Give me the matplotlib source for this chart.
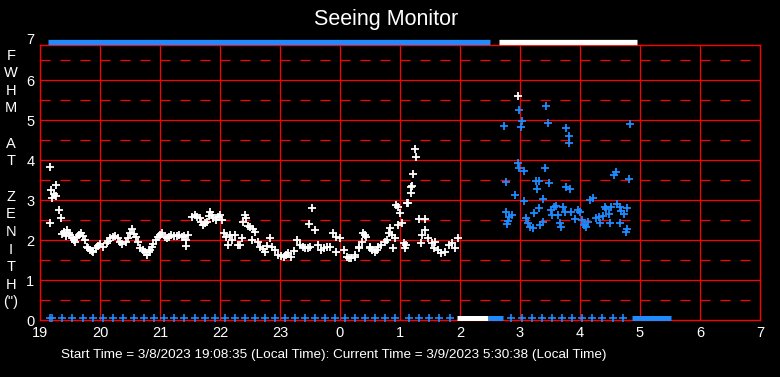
import matplotlib
matplotlib.use('Agg')
import matplotlib.pyplot as plt

plt.rcParams['font.family'] = ['Liberation Sans', 'DejaVu Sans']
plt.rcParams['lines.scale_dashes'] = False

# hours after 19:00 on 3/8, times past midnight written as 24+h
hour_ticks = list(range(19, 32))
hour_labels = ['19', '20', '21', '22', '23', '0', '1', '2', '3', '4', '5', '6', '7']
fwhm_ticks = [0, 1, 2, 3, 4, 5, 6]
ylabel_letters = ['F', 'W', 'H', 'M', '', 'A', 'T', '', 'Z', 'E', 'N', 'I', 'T', 'H', '(")']

white_t = [19.16, 19.17, 19.19, 19.20, 19.23, 19.26, 19.27, 19.32, 19.35, 19.37, 19.40, 19.43,
           19.45, 19.48, 19.50, 19.53, 19.56, 19.58, 19.61, 19.65, 19.69, 19.72, 19.75, 19.78,
           19.80, 19.83, 19.86, 19.89, 19.94, 19.97, 20.00, 20.05, 20.11, 20.14, 20.17, 20.21,
           20.25, 20.30, 20.33, 20.36, 20.43, 20.47, 20.50, 20.54, 20.57, 20.60, 20.63, 20.67,
           20.71, 20.75, 20.79, 20.81, 20.83, 20.86, 20.89, 20.93, 20.97, 21.00, 21.03, 21.08,
           21.11, 21.15, 21.19, 21.23, 21.28, 21.32, 21.36, 21.40, 21.44, 21.44, 21.47, 21.53,
           21.58, 21.62, 21.66, 21.69, 21.72, 21.75, 21.78, 21.81, 21.84, 21.87, 21.89, 21.94,
           21.97, 22.00, 22.04, 22.06, 22.10, 22.14, 22.17, 22.20, 22.25, 22.30, 22.33, 22.36,
           22.39, 22.42, 22.44, 22.47, 22.50, 22.53, 22.55, 22.58, 22.63, 22.67, 22.71, 22.75,
           22.79, 22.83, 22.86, 22.92, 22.97, 23.02, 23.06, 23.10, 23.14, 23.19, 23.23, 23.28,
           23.33, 23.38, 23.42, 23.46, 23.48, 23.50, 23.53, 23.58, 23.64, 23.69, 23.74, 23.78,
           23.83, 23.89, 23.94, 23.94, 24.00, 24.06, 24.11, 24.15, 24.19, 24.25, 24.25, 24.31,
           24.31, 24.36, 24.39, 24.42, 24.44, 24.50, 24.50, 24.54, 24.58, 24.61, 24.64, 24.69,
           24.75, 24.78, 24.81, 24.83, 24.86, 24.89, 24.92, 24.94, 24.96, 24.97, 25.00, 25.03,
           25.06, 25.08, 25.10, 25.11, 25.13, 25.18, 25.19, 25.20, 25.22, 25.25, 25.27, 25.31,
           25.35, 25.36, 25.42, 25.42, 25.47, 25.53, 25.56, 25.58, 25.64, 25.69, 25.75, 25.81,
           25.86, 25.92, 25.96, 26.97]
white_v = [2.42, 3.82, 3.25, 3.05, 3.15, 3.37, 3.10, 2.74, 2.54, 2.15, 2.20, 2.10,
           2.25, 2.18, 2.12, 2.05, 2.00, 1.95, 2.07, 2.12, 2.17, 2.10, 2.00, 1.83,
           1.80, 1.75, 1.73, 1.71, 1.79, 1.85, 1.90, 1.83, 1.92, 1.98, 2.04, 2.08,
           2.10, 2.04, 1.95, 1.90, 1.96, 2.05, 2.17, 2.27, 2.15, 2.07, 1.95, 1.79,
           1.75, 1.71, 1.62, 1.70, 1.75, 1.82, 1.90, 2.00, 2.08, 2.12, 2.17, 2.08,
           2.04, 2.08, 2.12, 2.10, 2.10, 2.12, 2.07, 2.10, 2.00, 1.85, 2.12, 2.58,
           2.62, 2.57, 2.54, 2.45, 2.37, 2.42, 2.46, 2.60, 2.71, 2.62, 2.54, 2.50,
           2.57, 2.62, 2.50, 2.17, 2.08, 1.87, 2.12, 2.00, 2.12, 1.87, 1.87, 2.04,
           2.46, 2.62, 2.55, 2.35, 2.33, 2.00, 2.27, 2.21, 1.95, 1.83, 1.77, 1.71,
           1.85, 2.04, 1.83, 1.75, 1.62, 1.60, 1.58, 1.62, 1.67, 1.58, 1.72, 2.00,
           1.87, 1.82, 1.79, 1.80, 2.40, 1.83, 2.79, 2.25, 1.87, 1.75, 1.80, 1.83,
           1.83, 2.17, 2.08, 1.71, 2.04, 1.75, 1.58, 1.55, 1.54, 1.62, 1.58, 1.83,
           1.79, 1.96, 2.17, 2.12, 2.08, 1.83, 1.79, 1.75, 1.71, 1.75, 1.83, 1.87,
           1.96, 2.00, 2.17, 2.30, 2.12, 1.79, 2.04, 2.87, 2.82, 2.37, 2.67, 2.42,
           1.92, 1.79, 1.87, 2.92, 2.92, 3.17, 3.33, 3.35, 3.64, 4.27, 4.07, 2.52,
           1.92, 2.12, 2.52, 2.25, 2.04, 1.92, 1.79, 1.96, 1.75, 1.67, 1.71, 1.87,
           1.92, 1.79, 2.04, 5.60]

blue_t = [27.43, 26.99, 27.04, 26.74, 27.01, 27.47, 27.77, 27.82, 27.81, 28.84,
          26.96, 26.98, 27.06, 27.41, 26.76, 27.27, 27.31, 27.29, 27.49, 27.76,
          27.84, 28.56, 28.60, 28.82, 26.91, 27.07, 27.39, 28.17, 28.22, 26.77,
          26.82, 26.87, 26.80, 26.79, 27.10, 27.14, 27.17, 27.22, 27.24, 27.32,
          27.34, 27.38, 27.51, 27.54, 27.57, 27.60, 27.64, 27.67, 27.69, 27.72,
          27.75, 27.85, 27.92, 27.96, 28.00, 28.03, 28.06, 28.10, 28.14, 28.27,
          28.32, 28.33, 28.39, 28.42, 28.44, 28.48, 28.52, 28.50, 28.61, 28.67,
          28.69, 28.73, 28.79, 28.66, 28.78, 28.77]
blue_v = [5.35, 5.25, 4.97, 4.85, 4.82, 4.92, 4.79, 4.60, 4.42, 4.89,
          3.92, 3.79, 3.72, 3.79, 3.44, 3.47, 3.47, 3.28, 3.42, 3.32,
          3.27, 3.62, 3.71, 3.52, 3.12, 2.97, 3.02, 3.00, 3.04, 2.69,
          2.58, 2.62, 2.48, 2.39, 2.56, 2.42, 2.33, 2.31, 2.67, 2.79,
          2.37, 2.46, 2.75, 2.62, 2.83, 2.85, 2.62, 2.42, 2.33, 2.83,
          2.71, 2.69, 2.52, 2.75, 2.71, 2.50, 2.37, 2.33, 2.46, 2.54,
          2.57, 2.42, 2.60, 2.83, 2.77, 2.64, 2.82, 2.43, 2.90, 2.83,
          2.73, 2.65, 2.79, 2.43, 2.27, 2.21]

# sparse flags along the zero line
zero_blue_t = [19.17, 19.20, 19.37, 19.53, 19.72, 19.88, 20.05, 20.22, 20.38, 20.57, 20.73,
               20.90, 21.07, 21.23, 21.40, 21.58, 21.75, 21.92, 22.08, 22.25, 22.42, 22.58,
               22.75, 22.92, 23.08, 23.25, 23.42, 23.58, 23.75, 23.92, 24.08, 24.25, 24.42,
               24.58, 24.75, 24.92, 25.15, 25.32, 25.48, 25.65, 25.83, 26.85, 27.03, 27.20,
               27.37, 27.53, 27.70, 27.87, 28.03, 28.20, 28.37, 28.55, 28.72]

# dense runs of flags: (start, end) in hours
top_blue_runs = [(19.13, 26.50)]
top_white_runs = [(26.65, 28.95)]
zero_white_runs = [(25.95, 26.47)]
zero_blue_runs = [(26.47, 26.72), (28.87, 29.52)]

blue = '#1e8cff'

fig = plt.figure(figsize=(7.8, 3.77), dpi=100, facecolor='black')
ax = fig.add_axes([40 / 780, 57 / 377, 720 / 780, 275 / 377])
ax.set_facecolor('black')
ax.set_xlim(19, 31)
ax.set_ylim(0, 6.875)

for h in hour_ticks[1:-1]:
    ax.axvline(h, color='red', lw=0.9, zorder=1)
for y in fwhm_ticks[1:]:
    ax.axhline(y, color='red', lw=0.9, zorder=1)
for y in fwhm_ticks:
    ax.axhline(y + 0.5, color='red', lw=0.9, dashes=(7.2, 7.2), zorder=1)

for s in ax.spines.values():
    s.set_color('red')
    s.set_linewidth(1.0)

ax.set_xticks(hour_ticks)
ax.set_xticklabels(hour_labels)
ax.set_yticks(fwhm_ticks)
ax.set_yticklabels([str(v) for v in fwhm_ticks])
ax.tick_params(length=0, colors='white', labelsize=10.5, pad=4)
ax.annotate('7', xy=(0, 7), xycoords=('axes fraction', 'data'), xytext=(-4, 0),
            textcoords='offset points', ha='right', va='center', color='white',
            fontsize=10.5, annotation_clip=False)

ax.plot(white_t, white_v, '+', color='white', ms=5.4, mew=1.3, ls='none', zorder=3)
ax.plot(blue_t, blue_v, '+', color=blue, ms=5.4, mew=1.3, ls='none', zorder=3)
ax.plot(zero_blue_t, [0.06] * len(zero_blue_t), '+', color=blue, ms=5.2, mew=1.2,
        ls='none', clip_on=False, zorder=3)

for a, b in top_blue_runs:
    ax.hlines(6.94, a, b, color=blue, lw=3.8, clip_on=False, zorder=3)
for a, b in top_white_runs:
    ax.hlines(6.94, a, b, color='white', lw=3.8, clip_on=False, zorder=3)
for a, b in zero_white_runs:
    ax.hlines(0.06, a, b, color='white', lw=3.6, clip_on=False, zorder=3)
for a, b in zero_blue_runs:
    ax.hlines(0.06, a, b, color=blue, lw=3.6, clip_on=False, zorder=3)

fig.text(386 / 780, 1 - 20 / 377, 'Seeing Monitor', ha='center', va='center',
         color='white', fontsize=15.5)
fig.text(11 / 780, 1 - 179 / 377, '\n'.join(ylabel_letters), ha='center', va='center',
         multialignment='center', color='white', fontsize=10.5, linespacing=1.33)
fig.text(334 / 780, 1 - 355 / 377,
         'Start Time = 3/8/2023 19:08:35 (Local Time): Current Time = 3/9/2023 5:30:38 (Local Time)',
         ha='center', va='center', color='white', fontsize=9.7)

fig.savefig('out.png', dpi=100, facecolor='black')
